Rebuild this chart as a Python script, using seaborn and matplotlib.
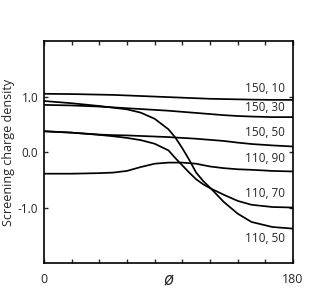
import numpy as np
import pandas as pd
import matplotlib
matplotlib.use('Agg')
import matplotlib.pyplot as plt
import seaborn as sns

# Data
phi = [0, 20, 40, 50, 60, 70, 80, 90, 95, 100, 105, 110, 115, 120, 130, 140, 150, 165, 180]

s150_10 = [1.05, 1.045, 1.035, 1.03, 1.02, 1.01, 1.0, 0.99, 0.985, 0.98, 0.975, 0.97, 0.965, 0.96, 0.955, 0.95, 0.945, 0.94, 0.94]
s150_30 = [0.85, 0.84, 0.82, 0.805, 0.79, 0.775, 0.76, 0.745, 0.735, 0.725, 0.715, 0.705, 0.695, 0.685, 0.665, 0.65, 0.64, 0.63, 0.63]
s150_50 = [0.375, 0.35, 0.315, 0.305, 0.30, 0.29, 0.28, 0.27, 0.262, 0.255, 0.248, 0.24, 0.23, 0.22, 0.20, 0.17, 0.145, 0.12, 0.10]
s110_90 = [-0.39, -0.39, -0.38, -0.37, -0.34, -0.27, -0.21, -0.19, -0.19, -0.19, -0.20, -0.21, -0.235, -0.26, -0.29, -0.31, -0.32, -0.34, -0.35]
s110_70 = [0.375, 0.35, 0.31, 0.285, 0.255, 0.215, 0.15, 0.03, -0.11, -0.24, -0.37, -0.49, -0.58, -0.65, -0.77, -0.88, -0.95, -0.99, -1.0]
s110_50 = [0.92, 0.88, 0.83, 0.80, 0.77, 0.71, 0.60, 0.41, 0.26, 0.07, -0.14, -0.37, -0.52, -0.64, -0.90, -1.11, -1.26, -1.35, -1.38]

series_names = ['150, 10', '150, 30', '150, 50', '110, 90', '110, 70', '110, 50']
series_vals = [s150_10, s150_30, s150_50, s110_90, s110_70, s110_50]
label_y = [1.14, 0.81, 0.36, -0.11, -0.74, -1.55]

# long-form table for seaborn
df = pd.concat([pd.DataFrame({'phi': phi, 'density': v, 'case': n})
                for n, v in zip(series_names, series_vals)])

sns.set_style('ticks')
plt.rcParams['font.family'] = ['Open Sans', 'DejaVu Sans']

fig = plt.figure(figsize=(3.3, 3.02), dpi=100)
ax = fig.add_axes([0.133, 0.129, 0.755, 0.735])

sns.lineplot(data=df, x='phi', y='density', hue='case', sort=False,
             palette={n: 'black' for n in series_names}, legend=False,
             linewidth=1.25, ax=ax)

for n, y in zip(series_names, label_y):
    ax.text(174, y, n, ha='right', va='center', fontsize=8.5)

ax.set_xlim(0, 180)
ax.set_ylim(-2, 2)
ax.set_xticks(np.arange(0, 181, 20))
ax.set_xticklabels(['0', '', '', '', '', '', '', '', '', '180'], fontsize=9)
ax.set_yticks([-1, 0, 1])
ax.set_yticklabels(['-1.0', '0.0', '1.0'], fontsize=8.5)
ax.tick_params(direction='in', length=3, width=1, top=True, right=True, pad=4)
ax.tick_params(axis='x', pad=7)

for sp in ax.spines.values():
    sp.set_linewidth(1.2)
    sp.set_color('black')

ax.set_xlabel('ø', fontsize=13, style='italic', labelpad=-10)
ax.set_ylabel('Screening charge density', fontsize=9, labelpad=2)

fig.savefig('out.png', dpi=100)
